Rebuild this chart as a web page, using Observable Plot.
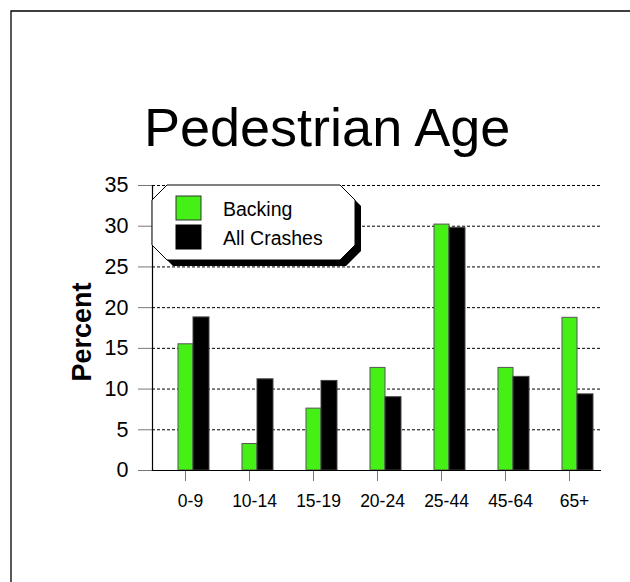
<!DOCTYPE html>
<html>
<head>
<meta charset="utf-8">
<script src="https://cdn.jsdelivr.net/npm/d3@7"></script>
<script src="https://cdn.jsdelivr.net/npm/@observablehq/plot@0.6"></script>
<style>
  html, body { margin: 0; padding: 0; background: #fff; }
  #chart { width: 630px; height: 582px; position: relative; }
  svg { font-family: "Liberation Sans", Arial, sans-serif; }
</style>
</head>
<body>
<div id="chart"></div>
<script>
// ---- data ----
const ages = ["0-9", "10-14", "15-19", "20-24", "25-44", "45-64", "65+"];
const backing = [15.5, 3.25, 7.6, 12.6, 30.2, 12.6, 18.75];
const allCrashes = [18.8, 11.2, 11.0, 9.0, 29.8, 11.5, 9.35];
const seriesNames = ["Backing", "All Crashes"];
const seriesColors = ["#45f016", "#000000"];
const yTicks = [0, 5, 10, 15, 20, 25, 30, 35];
const titleText = "Pedestrian Age";
const yLabel = "Percent";

const rows = ages.map((a, i) => ({age: a, backing: backing[i], all: allCrashes[i]}));

const plot = Plot.plot({
  width: 630,
  height: 582,
  marginTop: 185,
  marginBottom: 112,
  marginLeft: 152,
  marginRight: 29,
  style: {fontFamily: "Liberation Sans, Arial, sans-serif", background: "white", color: "black"},
  x: {domain: ages, padding: 0, label: null},
  y: {domain: [0, 35], label: null},
  marks: [
    Plot.gridY(yTicks.filter(d => d > 0), {stroke: "black", strokeOpacity: 1, strokeDasharray: "3,2", strokeWidth: 1}),
    Plot.barY(rows, {x: "age", y: "backing", fill: seriesColors[0], stroke: "#555", strokeWidth: 1, insetLeft: 25, insetRight: 24}),
    Plot.barY(rows, {x: "age", y: "all", fill: seriesColors[1], stroke: "#444", strokeWidth: 1, insetLeft: 40, insetRight: 8}),
    Plot.axisY({ticks: yTicks, tickSize: 14, tickPadding: 10, stroke: "#777", fill: "black", fontSize: 21.5, label: null}),
    Plot.axisX({tickSize: 11, tickFormat: () => "", stroke: "#777", label: null}),
    Plot.axisX({tickSize: 0, tickPadding: 24, dx: 5, fontSize: 17.5, fill: "black", label: null}),
    Plot.ruleY([0], {stroke: "black", strokeWidth: 1.2}),
    Plot.frame({anchor: "left", stroke: "black", strokeWidth: 1.2}),
    Plot.text([yLabel], {frameAnchor: "left", textAnchor: "middle", dx: -70, dy: 4, rotate: -90, fontSize: 27, fontWeight: "bold", fill: "black"})
  ]
});

document.getElementById("chart").appendChild(plot);

const svg = d3.select(plot);

// border (left and top lines)
svg.append("path")
  .attr("d", "M11,582 L11,11 L630,11")
  .attr("fill", "none").attr("stroke", "black").attr("stroke-width", 1.3);

// title
svg.append("text")
  .attr("x", 144).attr("y", 146)
  .attr("text-anchor", "start")
  .attr("font-size", 54)
  .attr("fill", "black")
  .text(titleText);

// legend
const L = {x0: 152, y0: 185, x1: 355, y1: 260, c: 15, sh: 6};
function octo(dx, dy) {
  const {x0, y0, x1, y1, c} = L;
  return [
    [x0 + c, y0], [x1 - c, y0], [x1, y0 + c], [x1, y1 - c],
    [x1 - c, y1], [x0 + c, y1], [x0, y1 - c], [x0, y0 + c]
  ].map(p => (p[0] + dx) + "," + (p[1] + dy)).join(" ");
}
const lg = svg.append("g");
lg.append("polygon").attr("points", octo(L.sh, L.sh)).attr("fill", "black");
lg.append("polygon").attr("points", octo(0, 0)).attr("fill", "white").attr("stroke", "black").attr("stroke-width", 1);
seriesNames.forEach((name, i) => {
  const y = 196 + i * 29;
  lg.append("rect").attr("x", 176).attr("y", y).attr("width", 25).attr("height", 24)
    .attr("fill", seriesColors[i]).attr("stroke", i === 0 ? "#333" : "black").attr("stroke-width", 1);
  lg.append("text").attr("x", 223).attr("y", y + 20).attr("text-anchor", "start")
    .attr("font-size", 19.5).attr("fill", "black").text(name);
});
</script>
</body>
</html>
